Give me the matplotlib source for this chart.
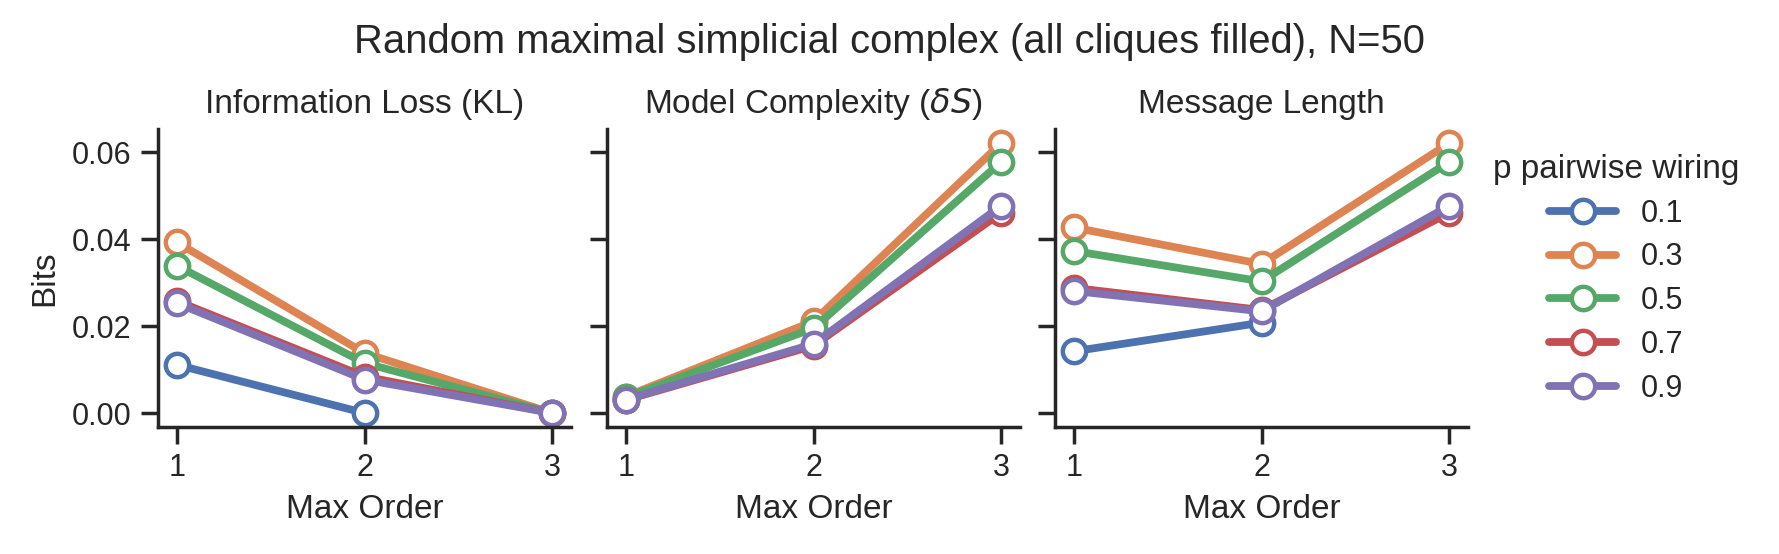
import matplotlib
matplotlib.use("Agg")
import matplotlib.pyplot as plt
import seaborn as sns

nan = float("nan")

# ---- data ----
max_order = [1, 2, 3]
p_labels = ["0.1", "0.3", "0.5", "0.7", "0.9"]

info_loss_p01 = [0.0111, 0.0000, nan]
info_loss_p03 = [0.0393, 0.0138, 0.0000]
info_loss_p05 = [0.0339, 0.0115, 0.0000]
info_loss_p07 = [0.0258, 0.0084, 0.0000]
info_loss_p09 = [0.0253, 0.0077, 0.0000]

complexity_p01 = [0.0030, 0.0210, nan]
complexity_p03 = [0.0038, 0.0211, 0.0621]
complexity_p05 = [0.0036, 0.0195, 0.0578]
complexity_p07 = [0.0030, 0.0155, 0.0461]
complexity_p09 = [0.0031, 0.0159, 0.0477]

msg_len_p01 = [0.0142, 0.0208, nan]
msg_len_p03 = [0.0427, 0.0343, 0.0621]
msg_len_p05 = [0.0373, 0.0303, 0.0578]
msg_len_p07 = [0.0288, 0.0237, 0.0461]
msg_len_p09 = [0.0281, 0.0234, 0.0477]

panel_titles = ["Information Loss (KL)", r"Model Complexity ($\delta S$)", "Message Length"]
panels = [
    [info_loss_p01, info_loss_p03, info_loss_p05, info_loss_p07, info_loss_p09],
    [complexity_p01, complexity_p03, complexity_p05, complexity_p07, complexity_p09],
    [msg_len_p01, msg_len_p03, msg_len_p05, msg_len_p07, msg_len_p09],
]
suptitle = "Random maximal simplicial complex (all cliques filled), N=50"
legend_title = "p pairwise wiring"

# ---- style ----
sns.set_theme(style="ticks", context="notebook")
plt.rcParams["font.family"] = ["Liberation Sans", "DejaVu Sans"]
colors = sns.color_palette("deep", 5)

W, H, DPI = 1779, 554, 200
fig = plt.figure(figsize=(W / DPI, H / DPI), dpi=DPI)

lefts = [158 / W, 607 / W, 1055 / W]
width = 413 / W
bottom = 1 - 426.5 / H
height = (426.5 - 129.3) / H

axes = []
for i, left in enumerate(lefts):
    ax = fig.add_axes([left, bottom, width, height], sharey=axes[0] if axes else None)
    axes.append(ax)
    handles = []
    for j, series in enumerate(panels[i]):
        h, = ax.plot(max_order, series, color=colors[j], lw=2.8, marker="o",
                     markersize=8.4, markerfacecolor="white", markeredgecolor=colors[j],
                     markeredgewidth=1.6, label=p_labels[j])
        handles.append(h)
    ax.set_title(panel_titles[i], fontsize=12)
    ax.set_xlabel("Max Order", fontsize=12)
    ax.set_xticks(max_order)
    ax.set_xlim(0.9, 3.1)
    if i == 0:
        ax.set_ylabel("Bits", fontsize=12)
    else:
        ax.tick_params(labelleft=False)
    sns.despine(ax=ax)

axes[0].set_ylim(-0.0031, 0.0653)
axes[0].set_yticks([0.0, 0.02, 0.04, 0.06])
axes[0].set_yticklabels(["0.00", "0.02", "0.04", "0.06"])

fig.suptitle(suptitle, x=0.5, y=0.958, fontsize=14.4)

leg = fig.legend(handles=handles, title=legend_title, loc="center",
                 bbox_to_anchor=(1616 / W, 0.497), frameon=False, fontsize=11,
                 title_fontsize=12, handlelength=2.2, labelspacing=0.45)

fig.savefig("out.png", dpi=DPI)
